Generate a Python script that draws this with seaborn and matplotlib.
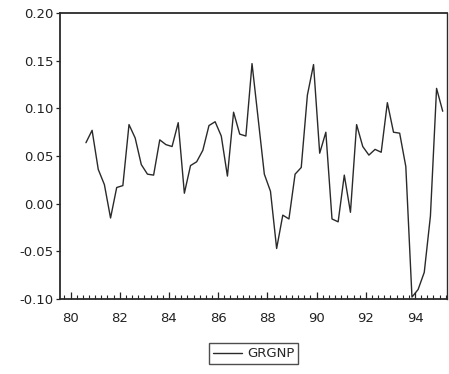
import numpy as np
import pandas as pd
import matplotlib
matplotlib.use("Agg")
import matplotlib.pyplot as plt
import seaborn as sns
from matplotlib.ticker import MultipleLocator, FixedLocator

sns.set_style("white")
plt.rcParams['font.family'] = ['DejaVu Sans']
plt.rcParams['axes.unicode_minus'] = False

# quarterly series, 1980Q3 .. 1995Q1
start_year, start_q = 1980, 3
grgnp = [
    0.064, 0.077, 0.036, 0.020, -0.015, 0.017, 0.019, 0.083, 0.069, 0.041,
    0.031, 0.030, 0.067, 0.062, 0.060, 0.085, 0.011, 0.040, 0.044, 0.056,
    0.082, 0.086, 0.071, 0.029, 0.096, 0.073, 0.071, 0.147, 0.089, 0.031,
    0.013, -0.047, -0.012, -0.016, 0.031, 0.038, 0.114, 0.146, 0.053, 0.075,
    -0.016, -0.019, 0.030, -0.009, 0.083, 0.060, 0.051, 0.057, 0.054, 0.106,
    0.075, 0.074, 0.039, -0.098, -0.090, -0.072, -0.013, 0.121, 0.097,
]
year_ticks = [1980, 1982, 1984, 1986, 1988, 1990, 1992, 1994]
year_labels = ["80", "82", "84", "86", "88", "90", "92", "94"]
y_ticks = [-0.10, -0.05, 0.00, 0.05, 0.10, 0.15, 0.20]

# observations placed at the middle of each quarter
t = start_year + (start_q - 1) / 4 + 0.125 + 0.25 * np.arange(len(grgnp))
df = pd.DataFrame({"date": t, "GRGNP": grgnp})

fig = plt.figure(figsize=(4.49, 3.74), dpi=100)
ax = fig.add_axes([0.1336, 0.2005, 0.862, 0.7645])

sns.lineplot(data=df, x="date", y="GRGNP", ax=ax, color="#2a2a2a",
             linewidth=1.0, label="GRGNP")

ax.set_xlim(1979.57, 1995.3)
ax.set_ylim(-0.10, 0.20)
ax.set_xlabel("")
ax.set_ylabel("")

ax.xaxis.set_major_locator(FixedLocator(year_ticks))
ax.set_xticklabels(year_labels)
ax.xaxis.set_minor_locator(MultipleLocator(0.25))
ax.set_yticks(y_ticks)
ax.set_yticklabels([f"{v:.2f}" for v in y_ticks])

ax.tick_params(axis="x", which="major", direction="in", length=5, width=0.9,
               pad=9, labelsize=9.5, colors="#222222", bottom=True)
ax.tick_params(axis="x", which="minor", direction="in", length=3, width=0.8,
               colors="#222222", bottom=True)
ax.tick_params(axis="y", which="major", direction="out", length=3, width=0.9,
               pad=1.5, labelsize=9.5, colors="#222222", left=True)

for side, sp in ax.spines.items():
    sp.set_visible(True)
    sp.set_color("#2a2a2a")
    sp.set_linewidth(1.3 if side in ("top", "bottom", "left") else 1.0)

ax.legend(loc="center", bbox_to_anchor=(0.5, -0.192), frameon=True,
          fancybox=False, edgecolor="#222222", fontsize=9.5,
          handlelength=2.2, handletextpad=0.4, borderpad=0.3)

fig.savefig("out.png", dpi=100)
